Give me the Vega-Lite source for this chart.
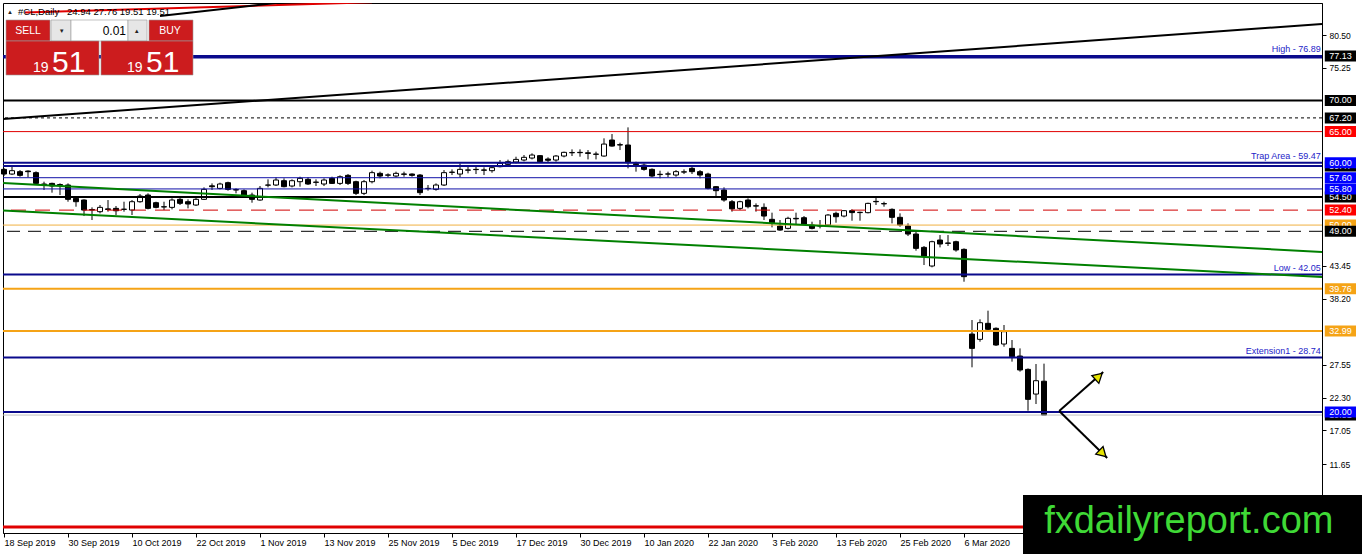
{
  "$schema": "https://vega.github.io/schema/vega-lite/v6.json",
  "width": 1319,
  "height": 530,
  "autosize": "none",
  "padding": {"left": 3, "top": 3, "right": 40, "bottom": 21},
  "background": "white",
  "config": {
    "view": {"stroke": "black", "strokeWidth": 1},
    "axis": {"grid": false, "domainColor": "black", "tickColor": "black", "labelColor": "black", "labelFont": "Liberation Sans", "titleColor": "transparent"},
    "text": {"font": "Liberation Sans"}
  },
  "resolve": {"scale": {"color": "independent", "fill": "independent"}},
  "datasets": {
    "candles": [
      {"i":0,"o":58.94,"h":59.15,"l":57.87,"c":58.19},
      {"i":1,"o":58.19,"h":59.37,"l":58.03,"c":58.73},
      {"i":2,"o":58.57,"h":58.83,"l":57.76,"c":57.98},
      {"i":3,"o":58.67,"h":58.78,"l":57.66,"c":58.57},
      {"i":4,"o":58.41,"h":58.62,"l":56.59,"c":56.69},
      {"i":5,"o":56.59,"h":56.96,"l":55.63,"c":56.50},
      {"i":6,"o":56.69,"h":56.80,"l":55.20,"c":56.27},
      {"i":7,"o":56.50,"h":56.69,"l":54.82,"c":56.40},
      {"i":8,"o":56.43,"h":56.69,"l":53.75,"c":54.13},
      {"i":9,"o":54.29,"h":54.66,"l":52.95,"c":53.75},
      {"i":10,"o":54.02,"h":54.13,"l":51.45,"c":52.41},
      {"i":11,"o":52.50,"h":52.84,"l":50.81,"c":52.41},
      {"i":12,"o":52.15,"h":53.22,"l":51.88,"c":52.84},
      {"i":13,"o":52.60,"h":54.02,"l":52.15,"c":52.50},
      {"i":14,"o":52.68,"h":53.06,"l":51.61,"c":52.30},
      {"i":15,"o":52.52,"h":53.75,"l":52.15,"c":52.55},
      {"i":16,"o":52.41,"h":54.02,"l":51.61,"c":53.75},
      {"i":17,"o":53.75,"h":54.98,"l":53.59,"c":54.66},
      {"i":18,"o":54.82,"h":55.09,"l":52.52,"c":52.68},
      {"i":19,"o":53.59,"h":53.75,"l":52.68,"c":52.84},
      {"i":20,"o":52.90,"h":53.75,"l":52.41,"c":52.95},
      {"i":21,"o":52.84,"h":54.29,"l":52.52,"c":54.02},
      {"i":22,"o":54.13,"h":54.55,"l":53.22,"c":53.49},
      {"i":23,"o":53.75,"h":54.13,"l":52.68,"c":53.38},
      {"i":24,"o":53.22,"h":54.55,"l":53.06,"c":54.13},
      {"i":25,"o":54.13,"h":56.05,"l":54.02,"c":55.73},
      {"i":26,"o":56.30,"h":56.69,"l":55.63,"c":56.16},
      {"i":27,"o":55.89,"h":56.80,"l":55.73,"c":56.59},
      {"i":28,"o":56.80,"h":56.96,"l":55.52,"c":55.73},
      {"i":29,"o":55.68,"h":55.89,"l":55.09,"c":55.63},
      {"i":30,"o":55.52,"h":55.73,"l":54.45,"c":54.55},
      {"i":31,"o":54.82,"h":55.20,"l":53.59,"c":54.13},
      {"i":32,"o":54.02,"h":56.27,"l":53.91,"c":55.89},
      {"i":33,"o":56.40,"h":57.34,"l":56.05,"c":56.43},
      {"i":34,"o":56.43,"h":57.66,"l":56.27,"c":57.23},
      {"i":35,"o":57.12,"h":57.50,"l":56.05,"c":56.16},
      {"i":36,"o":56.27,"h":57.34,"l":56.05,"c":57.12},
      {"i":37,"o":56.96,"h":57.76,"l":56.16,"c":57.50},
      {"i":38,"o":57.34,"h":57.66,"l":56.43,"c":56.59},
      {"i":39,"o":56.85,"h":57.34,"l":56.27,"c":56.90},
      {"i":40,"o":56.59,"h":57.50,"l":56.27,"c":57.23},
      {"i":41,"o":57.50,"h":57.76,"l":56.59,"c":56.69},
      {"i":42,"o":56.69,"h":57.98,"l":56.43,"c":57.76},
      {"i":43,"o":57.98,"h":58.19,"l":56.43,"c":56.69},
      {"i":44,"o":56.96,"h":57.12,"l":54.82,"c":55.09},
      {"i":45,"o":55.09,"h":57.23,"l":54.82,"c":56.96},
      {"i":46,"o":56.96,"h":58.73,"l":56.69,"c":58.41},
      {"i":47,"o":58.30,"h":58.57,"l":57.50,"c":57.87},
      {"i":48,"o":58.00,"h":58.30,"l":57.66,"c":58.05},
      {"i":49,"o":57.87,"h":58.57,"l":57.66,"c":58.30},
      {"i":50,"o":58.20,"h":58.57,"l":57.76,"c":58.15},
      {"i":51,"o":58.19,"h":58.30,"l":57.76,"c":57.98},
      {"i":52,"o":58.03,"h":58.19,"l":54.82,"c":55.20},
      {"i":53,"o":55.85,"h":56.43,"l":55.52,"c":55.89},
      {"i":54,"o":55.73,"h":56.69,"l":55.52,"c":56.43},
      {"i":55,"o":56.43,"h":58.83,"l":56.27,"c":58.41},
      {"i":56,"o":58.45,"h":58.94,"l":58.03,"c":58.50},
      {"i":57,"o":58.19,"h":59.90,"l":57.66,"c":58.94},
      {"i":58,"o":58.80,"h":59.37,"l":58.30,"c":58.85},
      {"i":59,"o":58.94,"h":59.37,"l":58.19,"c":58.90},
      {"i":60,"o":58.85,"h":59.26,"l":58.03,"c":58.80},
      {"i":61,"o":58.73,"h":59.48,"l":58.40,"c":59.21},
      {"i":62,"o":59.37,"h":60.44,"l":59.26,"c":59.90},
      {"i":63,"o":59.74,"h":60.50,"l":59.50,"c":60.17},
      {"i":64,"o":60.12,"h":60.97,"l":59.90,"c":60.54},
      {"i":65,"o":60.44,"h":61.24,"l":60.22,"c":60.87},
      {"i":66,"o":60.76,"h":61.51,"l":60.54,"c":61.24},
      {"i":67,"o":61.14,"h":61.24,"l":60.01,"c":60.17},
      {"i":68,"o":60.60,"h":60.87,"l":60.01,"c":60.40},
      {"i":69,"o":60.44,"h":61.24,"l":60.17,"c":61.08},
      {"i":70,"o":61.08,"h":61.78,"l":60.87,"c":61.67},
      {"i":71,"o":61.60,"h":62.15,"l":61.08,"c":61.65},
      {"i":72,"o":61.67,"h":62.15,"l":60.97,"c":61.62},
      {"i":73,"o":61.60,"h":62.04,"l":60.54,"c":61.50},
      {"i":74,"o":61.35,"h":61.78,"l":60.54,"c":61.40},
      {"i":75,"o":61.08,"h":63.92,"l":60.97,"c":63.00},
      {"i":76,"o":63.65,"h":64.61,"l":62.58,"c":62.68},
      {"i":77,"o":62.90,"h":63.22,"l":62.04,"c":62.85},
      {"i":78,"o":62.85,"h":65.68,"l":59.10,"c":60.01},
      {"i":79,"o":59.85,"h":60.17,"l":58.57,"c":59.70},
      {"i":80,"o":59.63,"h":59.90,"l":58.73,"c":58.94},
      {"i":81,"o":58.94,"h":59.10,"l":57.66,"c":57.87},
      {"i":82,"o":58.10,"h":58.73,"l":57.50,"c":58.15},
      {"i":83,"o":58.20,"h":58.57,"l":57.66,"c":58.19},
      {"i":84,"o":58.03,"h":58.83,"l":57.76,"c":58.57},
      {"i":85,"o":58.50,"h":58.94,"l":58.19,"c":58.55},
      {"i":86,"o":59.10,"h":59.37,"l":58.19,"c":58.57},
      {"i":87,"o":58.57,"h":58.83,"l":57.50,"c":58.03},
      {"i":88,"o":58.19,"h":58.40,"l":55.73,"c":55.89},
      {"i":89,"o":56.16,"h":56.27,"l":54.66,"c":55.52},
      {"i":90,"o":55.62,"h":56.05,"l":53.75,"c":54.02},
      {"i":91,"o":53.75,"h":54.02,"l":52.15,"c":52.60},
      {"i":92,"o":52.68,"h":53.91,"l":52.41,"c":53.75},
      {"i":93,"o":54.02,"h":54.29,"l":52.68,"c":52.95},
      {"i":94,"o":53.10,"h":53.48,"l":52.15,"c":53.05},
      {"i":95,"o":52.84,"h":53.48,"l":50.81,"c":51.45},
      {"i":96,"o":50.92,"h":51.99,"l":49.63,"c":50.27},
      {"i":97,"o":49.85,"h":50.81,"l":49.10,"c":49.20},
      {"i":98,"o":49.47,"h":51.34,"l":49.31,"c":51.08},
      {"i":99,"o":51.08,"h":51.99,"l":50.17,"c":51.00},
      {"i":100,"o":51.18,"h":51.45,"l":50.01,"c":50.17},
      {"i":101,"o":50.01,"h":50.54,"l":49.31,"c":49.47},
      {"i":102,"o":49.85,"h":50.81,"l":49.47,"c":49.90},
      {"i":103,"o":50.01,"h":51.77,"l":49.85,"c":51.61},
      {"i":104,"o":51.88,"h":52.15,"l":50.38,"c":51.34},
      {"i":105,"o":51.45,"h":52.41,"l":51.24,"c":52.31},
      {"i":106,"o":52.31,"h":52.52,"l":50.70,"c":52.00},
      {"i":107,"o":52.00,"h":52.15,"l":50.70,"c":52.05},
      {"i":108,"o":51.99,"h":53.59,"l":51.88,"c":53.48},
      {"i":109,"o":53.80,"h":54.45,"l":53.22,"c":53.75},
      {"i":110,"o":53.45,"h":53.75,"l":52.95,"c":53.40},
      {"i":111,"o":52.52,"h":52.68,"l":50.27,"c":51.24},
      {"i":112,"o":51.24,"h":51.88,"l":49.74,"c":50.01},
      {"i":113,"o":49.85,"h":50.27,"l":48.24,"c":48.56},
      {"i":114,"o":48.56,"h":48.94,"l":45.89,"c":46.26},
      {"i":115,"o":46.42,"h":46.64,"l":43.59,"c":45.03},
      {"i":116,"o":43.43,"h":47.49,"l":43.22,"c":47.33},
      {"i":117,"o":47.60,"h":48.40,"l":46.42,"c":46.96},
      {"i":118,"o":47.12,"h":48.40,"l":46.64,"c":47.07},
      {"i":119,"o":47.33,"h":47.49,"l":45.73,"c":46.00},
      {"i":120,"o":46.10,"h":46.26,"l":40.91,"c":41.72},
      {"i":121,"o":32.51,"h":34.76,"l":27.17,"c":30.21},
      {"i":122,"o":31.66,"h":34.87,"l":31.28,"c":34.33},
      {"i":123,"o":34.23,"h":36.26,"l":32.89,"c":33.27},
      {"i":124,"o":33.43,"h":33.58,"l":30.59,"c":30.75},
      {"i":125,"o":30.91,"h":33.96,"l":30.48,"c":32.89},
      {"i":126,"o":30.21,"h":31.55,"l":28.08,"c":28.88},
      {"i":127,"o":28.98,"h":30.21,"l":26.47,"c":26.74},
      {"i":128,"o":26.84,"h":27.00,"l":20.21,"c":22.03},
      {"i":129,"o":22.88,"h":27.70,"l":21.28,"c":25.02},
      {"i":130,"o":24.94,"h":27.76,"l":19.51,"c":19.51}
    ],
    "levels": [
      {"p":77.13,"s":"navy"},{"p":76.89,"s":"navy"},{"p":60.0,"s":"navy"},{"p":59.47,"s":"navy"},
      {"p":42.05,"s":"navy"},{"p":28.74,"s":"navy"},{"p":20.0,"s":"navy"},
      {"p":57.6,"s":"blue"},{"p":55.8,"s":"blue"},
      {"p":70.0,"s":"black"},{"p":54.5,"s":"black"},
      {"p":67.2,"s":"dotted"},
      {"p":65.0,"s":"red"},
      {"p":52.4,"s":"reddash"},
      {"p":50.0,"s":"orangethin"},
      {"p":49.0,"s":"dashed"},
      {"p":39.76,"s":"orange"},{"p":32.99,"s":"orange"},
      {"p":19.51,"s":"bid"},
      {"p":1.54,"s":"redthick"}
    ],
    "trend": [
      {"id":"g1","i":-0.125,"p":56.75},{"id":"g1","i":164.75,"p":45.68},
      {"id":"g2","i":-0.125,"p":52.34},{"id":"g2","i":164.75,"p":41.67},
      {"id":"k","i":-0.125,"p":67.02},{"id":"k","i":164.75,"p":82.27},
      {"id":"r","i":2.625,"p":84.12},{"id":"r","i":46,"p":85.77},
      {"id":"k2","i":19.5,"p":83.55},{"id":"k2","i":35,"p":85.8}
    ],
    "tags": [
      {"t":"High - 76.89","p":77.13},
      {"t":"Trap Area - 59.47","p":60.0},
      {"t":"Low - 42.05","p":42.05},
      {"t":"Extension1 - 28.74","p":28.74}
    ],
    "boxBack": [
      {"p":59.47,"b":"black"},{"p":54.5,"b":"black"},{"p":50.0,"b":"orange"},{"p":19.51,"b":"black"}
    ],
    "boxFront": [
      {"p":77.13,"b":"black"},{"p":70.0,"b":"black"},{"p":67.2,"b":"black"},{"p":65.0,"b":"red"},
      {"p":60.0,"b":"blue"},{"p":57.6,"b":"blue"},{"p":55.8,"b":"blue"},{"p":52.4,"b":"red"},
      {"p":49.0,"b":"black"},{"p":39.76,"b":"orange"},{"p":32.99,"b":"orange"},{"p":20.0,"b":"blue"}
    ],
    "arrows": [
      {"a":"up","i":131.9,"p":20.16,"i2":137.4,"p2":26.42},
      {"a":"down","i":131.9,"p":20.16,"i2":137.9,"p2":12.61}
    ],
    "heads": [
      {"a":"up","i":136.7,"p":25.55},
      {"a":"down","i":137.2,"p":13.5}
    ]
  },
  "layer": [
    {
      "data": {"name": "candles"},
      "mark": {"type": "rule", "color": "black", "strokeWidth": 1},
      "encoding": {
        "x": {
          "field": "i", "type": "quantitative",
          "scale": {"domain": [-0.125, 164.75], "nice": false, "zero": false, "padding": 0},
          "axis": {
            "title": null, "orient": "bottom",
            "values": [0, 8, 16, 24, 32, 40, 48, 56, 64, 72, 80, 88, 96, 104, 112, 120],
            "labelExpr": "['18 Sep 2019','30 Sep 2019','10 Oct 2019','22 Oct 2019','1 Nov 2019','13 Nov 2019','25 Nov 2019','5 Dec 2019','17 Dec 2019','30 Dec 2019','10 Jan 2020','22 Jan 2020','3 Feb 2020','13 Feb 2020','25 Feb 2020','6 Mar 2020'][round(datum.value / 8)]",
            "labelAlign": "left", "labelDx": 1, "labelPadding": 1, "tickSize": 4,
            "labelFontSize": 9, "labelOverlap": false, "labelFlush": false, "labelBound": false
          }
        },
        "y": {
          "field": "l", "type": "quantitative",
          "scale": {"domain": [0.58, 85.64], "nice": false, "zero": false, "padding": 0},
          "axis": {
            "title": null, "orient": "right",
            "values": [80.5, 75.25, 43.45, 38.2, 27.55, 22.3, 17.05, 11.65, 6.25],
            "format": ".2f", "tickSize": 4, "labelPadding": 3, "labelFontSize": 8.5,
            "labelAlign": "left", "labelBaseline": "middle", "labelFlush": false, "labelOverlap": false
          }
        },
        "y2": {"field": "h"}
      }
    },
    {
      "data": {"name": "candles"},
      "mark": {"type": "bar", "width": 5, "stroke": "black", "strokeWidth": 1},
      "encoding": {
        "x": {"field": "i", "type": "quantitative"},
        "y": {"field": "o", "type": "quantitative"},
        "y2": {"field": "c"},
        "fill": {"condition": {"test": "datum.o > datum.c", "value": "black"}, "value": "white"}
      }
    },
    {
      "data": {"name": "levels"},
      "transform": [{"filter": "datum.s == 'bid'"}],
      "mark": {"type": "rule", "color": "#c0c0c0", "strokeWidth": 1},
      "encoding": {"y": {"field": "p", "type": "quantitative"}}
    },
    {
      "data": {"name": "levels"},
      "transform": [{"filter": "datum.s == 'navy'"}],
      "mark": {"type": "rule", "color": "#0a0a8c", "strokeWidth": 2},
      "encoding": {"y": {"field": "p", "type": "quantitative"}}
    },
    {
      "data": {"name": "levels"},
      "transform": [{"filter": "datum.s == 'blue'"}],
      "mark": {"type": "rule", "color": "#1010a8", "strokeWidth": 1},
      "encoding": {"y": {"field": "p", "type": "quantitative"}}
    },
    {
      "data": {"name": "levels"},
      "transform": [{"filter": "datum.s == 'black'"}],
      "mark": {"type": "rule", "color": "black", "strokeWidth": 2},
      "encoding": {"y": {"field": "p", "type": "quantitative"}}
    },
    {
      "data": {"name": "levels"},
      "transform": [{"filter": "datum.s == 'dotted'"}],
      "mark": {"type": "rule", "color": "black", "strokeWidth": 1, "strokeDash": [3, 3]},
      "encoding": {"y": {"field": "p", "type": "quantitative"}}
    },
    {
      "data": {"name": "levels"},
      "transform": [{"filter": "datum.s == 'red'"}],
      "mark": {"type": "rule", "color": "#e00000", "strokeWidth": 1},
      "encoding": {"y": {"field": "p", "type": "quantitative"}}
    },
    {
      "data": {"name": "levels"},
      "transform": [{"filter": "datum.s == 'reddash'"}],
      "mark": {"type": "rule", "color": "#d00000", "strokeWidth": 1, "strokeDash": [15, 9]},
      "encoding": {"y": {"field": "p", "type": "quantitative"}}
    },
    {
      "data": {"name": "levels"},
      "transform": [{"filter": "datum.s == 'orangethin'"}],
      "mark": {"type": "rule", "color": "#f0b040", "strokeWidth": 1},
      "encoding": {"y": {"field": "p", "type": "quantitative"}}
    },
    {
      "data": {"name": "levels"},
      "transform": [{"filter": "datum.s == 'dashed'"}],
      "mark": {"type": "rule", "color": "black", "strokeWidth": 1, "strokeDash": [13, 8]},
      "encoding": {"y": {"field": "p", "type": "quantitative"}}
    },
    {
      "data": {"name": "levels"},
      "transform": [{"filter": "datum.s == 'orange'"}],
      "mark": {"type": "rule", "color": "#f5a316", "strokeWidth": 2},
      "encoding": {"y": {"field": "p", "type": "quantitative"}}
    },
    {
      "data": {"name": "levels"},
      "transform": [{"filter": "datum.s == 'redthick'"}],
      "mark": {"type": "rule", "color": "#e00000", "strokeWidth": 3},
      "encoding": {"y": {"field": "p", "type": "quantitative"}}
    },
    {
      "data": {"name": "trend"},
      "mark": {"type": "line", "strokeWidth": 2, "clip": true},
      "encoding": {
        "x": {"field": "i", "type": "quantitative"},
        "y": {"field": "p", "type": "quantitative"},
        "color": {
          "field": "id", "type": "nominal", "legend": null,
          "scale": {"domain": ["g1", "g2", "k", "r", "k2"], "range": ["#008000", "#008000", "#000000", "#e00000", "#000000"]}
        }
      }
    },
    {
      "data": {"name": "tags"},
      "mark": {"type": "text", "align": "right", "baseline": "bottom", "dy": -2, "fontSize": 9, "color": "#2424c8"},
      "encoding": {
        "x": {"datum": 164.6, "type": "quantitative"},
        "y": {"field": "p", "type": "quantitative"},
        "text": {"field": "t"}
      }
    },
    {
      "data": {"name": "arrows"},
      "mark": {"type": "rule", "color": "black", "strokeWidth": 2},
      "encoding": {
        "x": {"field": "i", "type": "quantitative"},
        "y": {"field": "p", "type": "quantitative"},
        "x2": {"field": "i2"},
        "y2": {"field": "p2"}
      }
    },
    {
      "data": {"name": "heads"},
      "transform": [{"filter": "datum.a == 'up'"}],
      "mark": {"type": "point", "shape": "triangle", "size": 110, "angle": 48, "filled": true, "fill": "#e6e400", "stroke": "black", "strokeWidth": 1.3, "opacity": 1},
      "encoding": {
        "x": {"field": "i", "type": "quantitative"},
        "y": {"field": "p", "type": "quantitative"}
      }
    },
    {
      "data": {"name": "heads"},
      "transform": [{"filter": "datum.a == 'down'"}],
      "mark": {"type": "point", "shape": "triangle", "size": 110, "angle": 134, "filled": true, "fill": "#e6e400", "stroke": "black", "strokeWidth": 1.3, "opacity": 1},
      "encoding": {
        "x": {"field": "i", "type": "quantitative"},
        "y": {"field": "p", "type": "quantitative"}
      }
    },
    {
      "data": {"name": "boxBack"},
      "mark": {"type": "rule", "strokeWidth": 11, "strokeCap": "butt"},
      "encoding": {
        "x": {"datum": 165.1, "type": "quantitative"},
        "x2": {"datum": 169.0},
        "y": {"field": "p", "type": "quantitative"},
        "color": {"field": "b", "type": "nominal", "legend": null, "scale": {"domain": ["black", "red", "blue", "orange"], "range": ["#000000", "#ff0000", "#0000ff", "#f5a316"]}}
      }
    },
    {
      "data": {"name": "boxBack"},
      "mark": {"type": "text", "align": "center", "baseline": "middle", "fontSize": 9, "color": "white"},
      "encoding": {
        "x": {"datum": 167.05, "type": "quantitative"},
        "y": {"field": "p", "type": "quantitative"},
        "text": {"field": "p", "format": ".2f"}
      }
    },
    {
      "data": {"name": "boxFront"},
      "mark": {"type": "rule", "strokeWidth": 11, "strokeCap": "butt"},
      "encoding": {
        "x": {"datum": 165.1, "type": "quantitative"},
        "x2": {"datum": 169.0},
        "y": {"field": "p", "type": "quantitative"},
        "color": {"field": "b", "type": "nominal", "legend": null, "scale": {"domain": ["black", "red", "blue", "orange"], "range": ["#000000", "#ff0000", "#0000ff", "#f5a316"]}}
      }
    },
    {
      "data": {"name": "boxFront"},
      "mark": {"type": "text", "align": "center", "baseline": "middle", "fontSize": 9, "color": "white"},
      "encoding": {
        "x": {"datum": 167.05, "type": "quantitative"},
        "y": {"field": "p", "type": "quantitative"},
        "text": {"field": "p", "format": ".2f"}
      }
    },
    {
      "data": {"values": [{"i": 127.375, "i2": 169.75, "p": 6.68, "p2": -2.79}]},
      "mark": {"type": "rect", "color": "black"},
      "encoding": {
        "x": {"field": "i", "type": "quantitative"},
        "x2": {"field": "i2"},
        "y": {"field": "p", "type": "quantitative"},
        "y2": {"field": "p2"}
      }
    },
    {
      "data": {"values": [{"t": "fxdailyreport.com", "i": 148.1, "p": 0.58}]},
      "mark": {"type": "text", "align": "center", "baseline": "alphabetic", "fontSize": 38, "color": "#3fd936"},
      "encoding": {
        "x": {"field": "i", "type": "quantitative"},
        "y": {"field": "p", "type": "quantitative"},
        "text": {"field": "t"}
      }
    },
    {
      "data": {"values": [
        {"part": "red", "i": 0.25, "i2": 5.75, "p": 82.91, "p2": 79.54},
        {"part": "gray", "i": 5.875, "i2": 8.375, "p": 82.91, "p2": 79.54},
        {"part": "white", "i": 8.375, "i2": 15.5, "p": 82.91, "p2": 79.54},
        {"part": "gray", "i": 15.5, "i2": 17.875, "p": 82.91, "p2": 79.54},
        {"part": "red", "i": 18.125, "i2": 23.625, "p": 82.91, "p2": 79.54},
        {"part": "red", "i": 0.25, "i2": 11.875, "p": 79.54, "p2": 74.08},
        {"part": "red", "i": 12.125, "i2": 23.625, "p": 79.54, "p2": 74.08}
      ]},
      "mark": {"type": "rect", "stroke": "#9a9a9a", "strokeWidth": 0.6},
      "encoding": {
        "x": {"field": "i", "type": "quantitative"},
        "x2": {"field": "i2"},
        "y": {"field": "p", "type": "quantitative"},
        "y2": {"field": "p2"},
        "fill": {"field": "part", "type": "nominal", "legend": null, "scale": {"domain": ["red", "gray", "white"], "range": ["#cc1c1e", "#e6e6e6", "#ffffff"]}}
      }
    },
    {
      "data": {"values": [
        {"t": "SELL", "i": 3.0, "p": 81.15},
        {"t": "BUY", "i": 20.75, "p": 81.15}
      ]},
      "mark": {"type": "text", "align": "center", "baseline": "middle", "fontSize": 10.5, "color": "white"},
      "encoding": {
        "x": {"field": "i", "type": "quantitative"},
        "y": {"field": "p", "type": "quantitative"},
        "text": {"field": "t"}
      }
    },
    {
      "data": {"values": [{"t": "0.01", "i": 15.25, "p": 81.15}]},
      "mark": {"type": "text", "align": "right", "baseline": "middle", "fontSize": 12, "color": "black"},
      "encoding": {
        "x": {"field": "i", "type": "quantitative"},
        "y": {"field": "p", "type": "quantitative"},
        "text": {"field": "t"}
      }
    },
    {
      "data": {"values": [
        {"t": "▼", "i": 7.2, "p": 81.15},
        {"t": "▲", "i": 16.6, "p": 81.15},
        {"t": "▲", "i": 0.75, "p": 84.2}
      ]},
      "mark": {"type": "text", "align": "center", "baseline": "middle", "fontSize": 6, "color": "#222222"},
      "encoding": {
        "x": {"field": "i", "type": "quantitative"},
        "y": {"field": "p", "type": "quantitative"},
        "text": {"field": "t"}
      }
    },
    {
      "data": {"values": [
        {"t": "19", "i": 4.6, "p": 74.57},
        {"t": "19", "i": 16.35, "p": 74.57}
      ]},
      "mark": {"type": "text", "align": "center", "baseline": "alphabetic", "fontSize": 14, "color": "white"},
      "encoding": {
        "x": {"field": "i", "type": "quantitative"},
        "y": {"field": "p", "type": "quantitative"},
        "text": {"field": "t"}
      }
    },
    {
      "data": {"values": [
        {"t": "51", "i": 8.1, "p": 74.57},
        {"t": "51", "i": 19.85, "p": 74.57}
      ]},
      "mark": {"type": "text", "align": "center", "baseline": "alphabetic", "fontSize": 30, "color": "white"},
      "encoding": {
        "x": {"field": "i", "type": "quantitative"},
        "y": {"field": "p", "type": "quantitative"},
        "text": {"field": "t"}
      }
    },
    {
      "data": {"values": [
        {"t": "#CL,Daily", "i": 1.75, "p": 84.2},
        {"t": "24.94 27.76 19.51 19.51", "i": 7.875, "p": 84.2}
      ]},
      "mark": {"type": "text", "align": "left", "baseline": "middle", "fontSize": 9.5, "color": "black"},
      "encoding": {
        "x": {"field": "i", "type": "quantitative"},
        "y": {"field": "p", "type": "quantitative"},
        "text": {"field": "t"}
      }
    }
  ]
}
